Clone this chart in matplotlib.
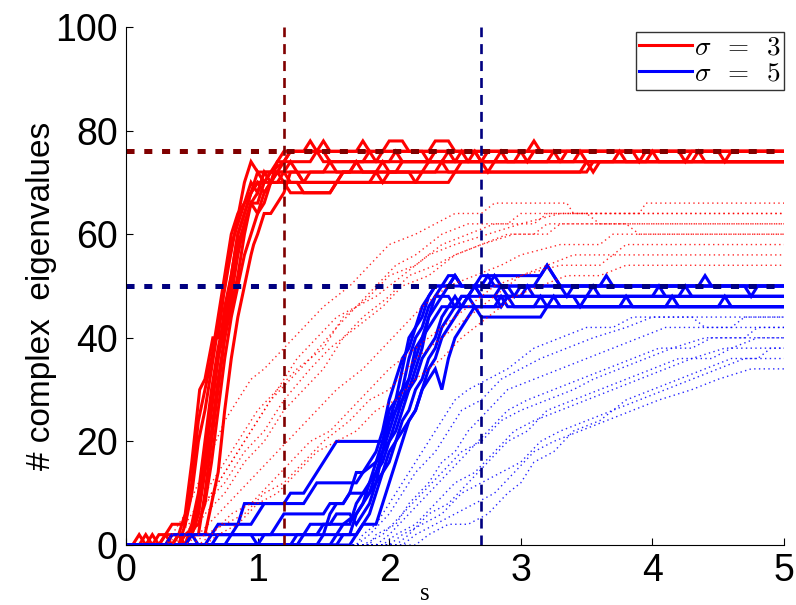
import matplotlib
matplotlib.use("Agg")
import matplotlib.pyplot as plt

# ---- data: (s, number of complex eigenvalues) vertices for each run ----
sigma3_solid = [
    [(0,0),(0.3,0),(0.35,2),(0.4,2),(0.45,6),(0.5,16),(0.56,30),(0.6,32),(0.66,40),(0.7,40),(0.74,48),(0.78,54),(0.84,62),(0.9,70),(0.95,74),(1.0,72),(1.1,72),(1.15,74),(1.2,74),(1.25,76),(1.45,76),(1.5,78),(1.55,76),(2.3,76),(2.35,78),(2.45,78),(2.5,76),(3.05,76),(3.1,78),(3.15,76),(5,76)],
    [(0,0),(0.1,0),(0.15,2),(0.2,0),(0.4,0),(0.45,4),(0.5,10),(0.55,20),(0.6,26),(0.65,34),(0.7,42),(0.75,50),(0.8,58),(0.85,62),(0.9,66),(0.95,68),(1.0,72),(1.05,70),(1.1,72),(1.2,74),(1.4,74),(1.45,76),(1.5,74),(1.8,74),(1.85,76),(1.9,74),(2.0,74),(2.05,76),(2.1,74),(2.6,74),(2.65,76),(2.7,74),(3.4,74),(3.45,76),(3.5,74),(5,74)],
    [(0,0),(0.2,0),(0.25,2),(0.3,2),(0.35,0),(0.45,0),(0.5,4),(0.55,10),(0.6,20),(0.65,30),(0.7,38),(0.75,44),(0.8,52),(0.85,60),(0.9,64),(0.95,68),(1.0,70),(1.1,70),(1.15,72),(1.3,72),(1.35,70),(1.6,70),(1.65,72),(1.9,72),(1.95,74),(2.0,72),(2.25,72),(2.3,74),(2.8,74),(2.85,76),(2.9,74),(3.3,74),(3.35,76),(5,76)],
    [(0,0),(0.25,0),(0.3,2),(0.4,2),(0.45,0),(0.5,2),(0.55,8),(0.6,16),(0.65,26),(0.7,36),(0.75,42),(0.8,50),(0.85,58),(0.9,62),(0.95,66),(1.0,68),(1.05,72),(1.1,70),(1.2,70),(1.25,68),(1.55,68),(1.6,70),(2.2,70),(2.25,72),(3.5,72),(3.55,74),(4.3,74),(4.35,76),(4.4,74),(5,74)],
    [(0,0),(0.3,0),(0.35,2),(0.5,2),(0.55,6),(0.6,14),(0.65,22),(0.7,32),(0.75,40),(0.8,48),(0.85,56),(0.9,62),(0.95,66),(1.0,64),(1.05,66),(1.1,70),(1.15,74),(1.2,76),(1.5,76),(1.55,74),(1.9,74),(1.95,76),(2.0,78),(2.1,78),(2.15,76),(2.65,76),(2.7,74),(2.75,76),(3.85,76),(3.9,74),(3.95,76),(5,76)],
    [(0,0),(0.35,0),(0.4,2),(0.55,2),(0.6,10),(0.65,20),(0.7,30),(0.75,40),(0.8,46),(0.85,52),(0.9,60),(0.95,66),(1.0,66),(1.05,70),(1.1,72),(1.2,72),(1.25,74),(1.3,72),(1.7,72),(1.75,74),(1.8,72),(2.05,72),(2.1,74),(2.4,74),(2.45,76),(2.5,74),(2.7,74),(2.75,72),(2.8,74),(3.2,74),(3.25,76),(3.3,74),(3.5,74),(3.55,72),(3.6,74),(5,74)],
    [(0,0),(0.4,0),(0.45,2),(0.55,4),(0.6,8),(0.65,16),(0.7,26),(0.75,36),(0.8,44),(0.85,50),(0.9,56),(0.95,60),(1.0,64),(1.05,68),(1.1,70),(1.15,70),(1.2,72),(1.25,70),(1.35,70),(1.4,72),(1.5,72),(1.55,74),(1.6,72),(1.9,72),(1.95,70),(2.0,72),(2.35,72),(2.4,74),(2.45,72),(3.45,72),(3.5,74),(3.95,74),(4.0,76),(4.05,74),(5,74)],
    [(0,0),(0.45,0),(0.5,2),(0.6,2),(0.65,8),(0.7,14),(0.75,26),(0.8,36),(0.85,44),(0.9,50),(0.95,56),(0.97,58),(1.0,60),(1.05,64),(1.1,64),(1.15,66),(1.2,68),(1.25,72),(1.3,72),(1.35,70),(1.6,70),(1.65,72),(1.7,72),(1.75,74),(2.5,74),(2.55,76),(2.6,74),(2.95,74),(3.0,76),(4.5,76),(4.55,74),(4.6,76),(5,76)],
    [(0,0),(0.15,0),(0.2,2),(0.25,0),(0.35,0),(0.4,2),(0.5,2),(0.55,6),(0.6,18),(0.65,28),(0.7,36),(0.75,46),(0.8,52),(0.85,60),(0.9,64),(0.95,68),(1.0,70),(1.05,68),(1.1,70),(1.15,72),(1.2,70),(1.3,70),(1.35,68),(1.55,68),(1.6,70),(1.85,70),(1.9,72),(2.15,72),(2.2,70),(2.45,70),(2.5,72),(2.55,74),(3.7,74),(3.75,76),(3.8,74),(5,74)],
    [(0,0),(0.05,0),(0.1,2),(0.15,0),(0.25,0),(0.3,2),(0.35,4),(0.45,4),(0.5,12),(0.55,24),(0.6,30),(0.65,36),(0.7,44),(0.75,52),(0.8,60),(0.85,64),(0.9,66),(0.95,70),(1.0,68),(1.05,72),(1.15,72),(1.2,74),(1.25,76),(1.35,76),(1.4,78),(1.45,76),(1.75,76),(1.8,78),(1.85,76),(2.25,76),(2.3,74),(2.35,76),(3.0,76),(3.05,74),(3.1,76),(4.2,76),(4.25,74),(4.3,76),(5,76)],
]

sigma5_solid = [
    [(0,0),(0.45,0),(0.5,2),(0.8,2),(0.85,4),(0.9,8),(1.2,8),(1.25,10),(1.35,10),(1.4,12),(1.5,16),(1.55,18),(1.6,20),(1.95,20),(2.0,24),(2.05,28),(2.1,34),(2.15,40),(2.2,42),(2.25,44),(2.3,48),(2.35,50),(2.45,50),(2.5,52),(2.55,50),(2.7,50),(2.75,52),(2.8,50),(2.9,50),(2.95,48),(3.0,50),(3.3,50),(3.35,48),(3.4,50),(3.6,50),(3.65,52),(3.7,50),(5,50)],
    [(0,0),(0.6,0),(0.65,2),(0.7,4),(0.95,4),(1.0,6),(1.05,8),(1.35,8),(1.4,10),(1.45,12),(1.75,12),(1.8,14),(1.9,16),(1.95,18),(2.0,22),(2.05,26),(2.1,30),(2.15,36),(2.2,40),(2.25,42),(2.3,46),(2.35,48),(2.45,48),(2.5,46),(2.55,48),(2.6,48),(2.65,50),(2.7,48),(2.8,48),(2.85,46),(2.9,48),(3.0,48),(3.05,50),(3.1,48),(3.4,48),(3.45,46),(3.5,48),(4.2,48),(4.25,50),(4.3,48),(5,48)],
    [(0,0),(0.75,0),(0.8,2),(1.1,2),(1.15,4),(1.2,6),(1.5,6),(1.55,8),(1.65,8),(1.7,10),(1.8,10),(1.85,12),(1.9,14),(1.95,16),(2.0,20),(2.05,22),(2.1,26),(2.15,30),(2.2,34),(2.25,38),(2.3,44),(2.35,46),(2.4,48),(2.45,50),(2.5,52),(2.55,50),(3.1,50),(3.15,52),(3.2,54),(3.25,52),(3.3,50),(4.35,50),(4.4,52),(4.45,50),(5,50)],
    [(0,0),(1.0,0),(1.05,2),(1.35,2),(1.4,4),(1.55,4),(1.6,6),(1.7,6),(1.75,4),(1.8,6),(1.85,8),(1.9,12),(1.95,14),(2.0,18),(2.05,20),(2.1,22),(2.15,24),(2.2,26),(2.25,30),(2.3,34),(2.35,36),(2.4,40),(2.45,42),(2.5,44),(2.55,46),(2.6,48),(2.65,46),(2.8,46),(2.85,48),(2.9,46),(3.2,46),(3.25,48),(3.3,46),(4.1,46),(4.15,48),(4.2,46),(5,46)],
    [(0,0),(0.3,0),(0.35,2),(0.5,2),(0.55,0),(1.25,0),(1.3,2),(1.45,2),(1.5,4),(1.7,4),(1.75,8),(1.8,10),(1.85,10),(1.9,12),(1.95,18),(2.0,20),(2.05,24),(2.1,28),(2.15,32),(2.2,38),(2.25,40),(2.3,44),(2.35,48),(2.4,50),(2.45,52),(2.5,52),(2.55,50),(2.65,50),(2.7,48),(3.5,48),(3.55,50),(3.6,48),(5,48)],
    [(0,0),(1.45,0),(1.5,2),(1.6,2),(1.65,4),(1.75,6),(1.8,8),(1.85,12),(1.9,16),(1.95,20),(2.0,26),(2.05,28),(2.1,30),(2.15,32),(2.2,36),(2.25,40),(2.3,42),(2.35,44),(2.4,46),(2.55,46),(2.6,48),(2.65,50),(2.7,52),(3.15,52),(3.2,54),(3.25,52),(3.3,50),(5,50)],
    [(0,0),(1.6,0),(1.65,2),(1.75,2),(1.8,4),(1.9,4),(1.95,8),(2.0,12),(2.05,16),(2.1,20),(2.15,24),(2.2,26),(2.25,30),(2.3,32),(2.35,34),(2.4,30),(2.45,36),(2.5,40),(2.55,42),(2.6,44),(2.65,46),(2.7,44),(3.15,44),(3.2,46),(5,46)],
    [(0,0),(0.65,0),(0.7,2),(0.95,2),(1.0,0),(1.7,0),(1.75,2),(1.8,4),(1.85,6),(1.9,10),(1.95,14),(2.0,16),(2.05,20),(2.1,24),(2.15,26),(2.2,30),(2.25,32),(2.3,36),(2.35,38),(2.4,42),(2.45,44),(2.5,46),(2.55,48),(2.8,48),(2.85,50),(2.9,48),(4.0,48),(4.05,50),(4.1,48),(5,48)],
    [(0,0),(1.55,0),(1.6,2),(1.7,2),(1.75,6),(1.8,8),(1.85,10),(1.9,14),(1.95,18),(2.0,24),(2.05,26),(2.1,28),(2.15,30),(2.2,32),(2.25,36),(2.3,38),(2.35,40),(2.4,44),(2.45,46),(2.5,48),(2.55,46),(2.85,46),(2.9,48),(2.95,46),(3.1,46),(3.15,48),(3.2,46),(3.75,46),(3.8,48),(3.85,46),(4.5,46),(4.55,48),(4.6,46),(5,46)],
    [(0,0),(1.3,0),(1.35,2),(1.5,2),(1.55,6),(1.6,8),(1.65,8),(1.7,10),(1.75,14),(1.8,14),(1.85,16),(1.9,18),(1.95,22),(2.0,28),(2.05,32),(2.1,36),(2.15,38),(2.2,42),(2.25,46),(2.3,48),(2.35,50),(2.75,50),(2.8,52),(2.85,50),(4.7,50),(4.75,48),(4.8,50),(5,50)],
]

sigma3_dotted = [
    [(0,0),(0.3,0),(0.35,2),(0.45,6),(0.55,12),(0.65,18),(0.75,24),(0.85,28),(0.95,32),(1.05,34),(1.2,38),(1.35,42),(1.5,46),(1.7,50),(1.85,54),(2.0,58),(2.2,60),(2.35,62),(2.5,64),(2.7,64),(2.8,66),(3.35,66),(3.4,64),(3.9,64),(3.95,66),(5,66)],
    [(0,0),(0.35,0),(0.45,4),(0.55,8),(0.7,14),(0.85,20),(1.0,26),(1.15,30),(1.3,36),(1.45,40),(1.6,44),(1.75,46),(1.9,50),(2.05,54),(2.2,56),(2.4,60),(2.6,62),(2.9,62),(3.0,64),(5,64)],
    [(0,0),(0.4,0),(0.5,2),(0.6,6),(0.75,10),(0.9,16),(1.05,20),(1.2,26),(1.35,30),(1.5,34),(1.65,40),(1.8,44),(2.0,48),(2.15,52),(2.35,54),(2.5,56),(2.7,58),(2.9,60),(3.1,60),(3.2,62),(5,62)],
    [(0,0),(0.45,0),(0.55,2),(0.7,6),(0.85,10),(1.0,14),(1.15,18),(1.3,22),(1.45,26),(1.6,30),(1.8,34),(1.95,38),(2.1,42),(2.25,46),(2.45,50),(2.65,52),(2.85,54),(3.0,56),(3.3,58),(3.6,58),(3.7,60),(5,60)],
    [(0,0),(0.5,0),(0.6,2),(0.75,4),(0.9,6),(1.05,10),(1.2,12),(1.35,16),(1.5,20),(1.7,24),(1.85,28),(2.0,30),(2.2,36),(2.4,40),(2.6,44),(2.8,48),(3.0,52),(3.2,54),(3.4,56),(3.7,56),(3.8,58),(5,58)],
    [(0,0),(0.35,0),(0.45,2),(0.6,8),(0.75,12),(0.9,18),(1.05,22),(1.2,28),(1.4,34),(1.55,38),(1.75,42),(1.95,46),(2.1,50),(2.3,52),(2.5,56),(2.7,58),(2.95,60),(3.2,60),(3.3,62),(3.8,62),(3.9,60),(5,60)],
    [(0,0),(0.55,0),(0.65,2),(0.8,6),(0.95,8),(1.1,12),(1.25,16),(1.4,20),(1.55,22),(1.7,26),(1.85,30),(2.0,34),(2.2,38),(2.4,42),(2.6,46),(2.8,50),(3.0,52),(3.3,54),(3.6,54),(3.7,56),(5,56)],
    [(0,0),(0.4,0),(0.5,4),(0.65,10),(0.8,16),(0.95,22),(1.1,28),(1.25,32),(1.4,36),(1.6,42),(1.75,46),(1.9,48),(2.1,52),(2.3,56),(2.5,58),(2.75,60),(3.0,62),(3.3,64),(5,64)],
    [(0,0),(0.6,0),(0.7,2),(0.85,4),(1.0,8),(1.15,10),(1.3,14),(1.45,18),(1.6,20),(1.75,22),(1.9,26),(2.05,28),(2.2,32),(2.4,36),(2.55,40),(2.75,44),(2.95,48),(3.15,50),(3.35,52),(3.6,52),(3.8,54),(5,54)],
    [(0,0),(0.3,0),(0.4,2),(0.55,6),(0.7,12),(0.85,18),(1.0,24),(1.15,30),(1.3,34),(1.5,38),(1.65,44),(1.85,48),(2.0,52),(2.2,54),(2.4,58),(2.6,60),(2.8,62),(3.1,62),(3.2,64),(3.5,64),(3.6,62),(5,62)],
]

sigma5_dotted = [
    [(0,0),(1.75,0),(1.8,2),(1.9,4),(2.0,8),(2.1,12),(2.2,16),(2.3,20),(2.4,24),(2.5,28),(2.6,30),(2.75,32),(2.9,34),(3.0,36),(3.1,38),(3.3,40),(3.5,42),(3.7,42),(3.85,44),(5,44)],
    [(0,0),(1.85,0),(1.9,2),(2.05,4),(2.15,8),(2.3,12),(2.4,16),(2.5,18),(2.6,22),(2.75,26),(2.9,30),(3.1,32),(3.3,34),(3.5,36),(3.7,38),(3.9,40),(4.1,42),(5,42)],
    [(0,0),(1.8,0),(1.95,2),(2.1,6),(2.25,10),(2.4,14),(2.55,18),(2.7,20),(2.85,24),(3.0,26),(3.2,28),(3.4,30),(3.55,32),(3.75,34),(3.95,36),(4.15,38),(4.4,40),(5,40)],
    [(0,0),(2.0,0),(2.1,2),(2.25,4),(2.4,6),(2.55,10),(2.7,12),(2.85,14),(3.0,16),(3.15,20),(3.3,22),(3.5,24),(3.7,26),(3.9,28),(4.1,30),(4.3,32),(4.5,34),(4.7,36),(5,36)],
    [(0,0),(1.9,0),(2.0,2),(2.15,6),(2.3,10),(2.45,14),(2.6,18),(2.75,22),(2.9,26),(3.05,28),(3.25,30),(3.45,32),(3.65,34),(3.85,36),(4.05,38),(4.3,38),(4.45,40),(4.7,40),(4.8,42),(5,42)],
    [(0,0),(2.1,0),(2.2,2),(2.35,4),(2.5,6),(2.65,8),(2.8,10),(2.95,14),(3.1,18),(3.25,20),(3.45,22),(3.65,24),(3.85,26),(4.05,28),(4.3,30),(4.5,32),(4.75,34),(5,34)],
    [(0,0),(1.75,0),(1.85,2),(2.0,6),(2.1,10),(2.2,14),(2.35,18),(2.45,22),(2.55,26),(2.7,28),(2.85,32),(3.0,34),(3.15,36),(3.35,38),(3.55,40),(3.8,42),(4.0,44),(4.3,44),(4.4,42),(4.6,42),(4.7,44),(5,44)],
    [(0,0),(2.2,0),(2.3,2),(2.45,4),(2.6,4),(2.75,6),(2.9,10),(3.0,12),(3.1,16),(3.25,18),(3.4,22),(3.6,24),(3.8,28),(4.0,30),(4.2,32),(4.4,34),(4.6,36),(4.8,36),(4.9,38),(5,38)],
    [(0,0),(1.95,0),(2.05,2),(2.2,4),(2.35,8),(2.5,12),(2.65,14),(2.8,18),(2.95,22),(3.1,24),(3.3,26),(3.5,28),(3.7,30),(3.9,32),(4.1,34),(4.3,36),(4.55,38),(5,38)],
    [(0,0),(2.05,0),(2.15,2),(2.3,6),(2.45,8),(2.6,12),(2.75,16),(2.9,20),(3.05,22),(3.2,26),(3.4,28),(3.6,30),(3.8,32),(4.0,34),(4.2,36),(4.45,36),(4.6,38),(4.8,40),(5,40)],
]

# thresholds: (s at which the count saturates, saturated count) per sigma
threshold_s = [1.2, 2.7]
threshold_n = [76, 50]

legend_labels = [r"$\sigma\;\;=\;\;3$", r"$\sigma\;\;=\;\;5$"]
x_ticks = [0, 1, 2, 3, 4, 5]
y_ticks = [0, 20, 40, 60, 80, 100]

# ---- styling ----
plt.rcParams["font.family"] = ["Liberation Sans", "DejaVu Sans"]
plt.rcParams["mathtext.fontset"] = "cm"
plt.rcParams["lines.scale_dashes"] = False

red, blue = "#ff0000", "#0000ff"
dark_red, navy = "#800000", "#000080"

fig = plt.figure(figsize=(7.96, 6.05), dpi=100)
ax = fig.add_axes([126 / 796, 1 - 545 / 605, 658 / 796, 518 / 605])

def draw(lines, **kw):
    for run in lines:
        s, n = zip(*run)
        ax.plot(s, n, **kw)

draw(sigma3_solid, color=red, lw=2.2, solid_joinstyle="miter")
draw(sigma5_solid, color=blue, lw=2.2, solid_joinstyle="miter")
draw(sigma3_dotted, color=red, lw=1.0, dashes=(1.0, 2.4), alpha=0.85)
draw(sigma5_dotted, color=blue, lw=1.0, dashes=(1.0, 2.4), alpha=0.85)

# saturation levels and thresholds
for s_t, n_t, c in zip(threshold_s, threshold_n, [dark_red, navy]):
    ax.plot([0, 5], [n_t, n_t], color=c, lw=3.6, dashes=(5.8, 7.0))
    ax.plot([s_t, s_t], [0, 100], color=c, lw=1.9, dashes=(7.2, 5.0))

# legend proxies
h3, = ax.plot([], [], color=red, lw=2.2)
h5, = ax.plot([], [], color=blue, lw=2.2)
leg = ax.legend([h3, h5], legend_labels, loc="upper right", bbox_to_anchor=(1.0, 0.99),
                borderaxespad=0, fontsize=19.5, frameon=True, fancybox=False,
                handlelength=1.95, handletextpad=0.1, borderpad=0.1, labelspacing=0.0)
leg.get_frame().set_edgecolor("black")
leg.get_frame().set_linewidth(1.0)

ax.set_xlim(0, 5)
ax.set_ylim(0, 100)
ax.set_xticks(x_ticks)
ax.set_yticks(y_ticks)
ax.tick_params(direction="in", length=5, width=0.8, labelsize=27, pad=6)
ax.spines["top"].set_visible(False)
ax.spines["right"].set_visible(False)

ax.set_ylabel("# complex  eigenvalues", fontsize=24)
ax.yaxis.set_label_coords(-0.105, 0.48)

# x label sits just under the tick labels, left of the axis centre
fig.text(425 / 796, 1 - 600 / 605, "s", fontsize=18, family="Liberation Serif",
         ha="center", va="baseline")

fig.savefig("out.png", dpi=100)
